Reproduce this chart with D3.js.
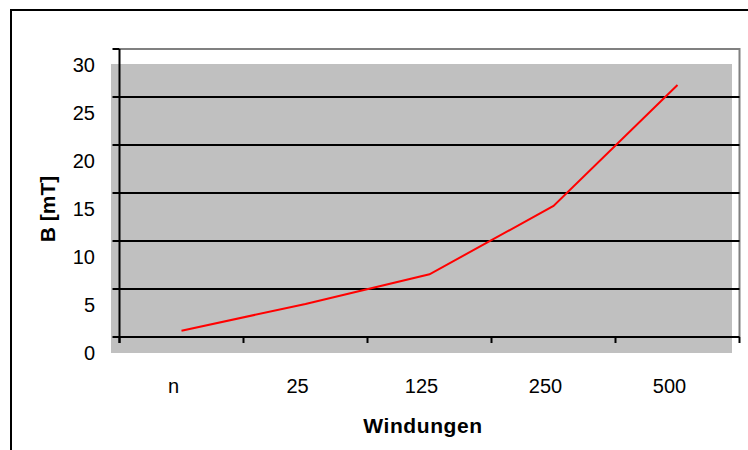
<!DOCTYPE html>
<html>
<head>
<meta charset="utf-8">
<script src="https://cdn.jsdelivr.net/npm/d3@7"></script>
<style>
  html, body { margin: 0; padding: 0; background: #fff; }
  svg { display: block; }
  text { font-family: "Liberation Sans", Arial, sans-serif; fill: #000; }
</style>
</head>
<body>
<svg id="chart" width="748" height="450"></svg>
<script>
// ---- data ----
const categories = ["n", "25", "125", "250", "500"];
const values = [0.66, 3.44, 6.53, 13.65, 26.25];
const yTicks = [0, 5, 10, 15, 20, 25, 30];
const xTitle = "Windungen";
const yTitle = "B [mT]";

// ---- layout ----
const W = 748, H = 450;
const plot = { left: 119.5, right: 739.5, top: 49, bottom: 337 };
const labelShift = { x: -8, y: 16 };

const svg = d3.select("#chart");

// outer frame
svg.append("rect")
  .attr("x", 11).attr("y", 10)
  .attr("width", 800).attr("height", 500)
  .attr("fill", "#fff").attr("stroke", "#000").attr("stroke-width", 2);

const x = d3.scaleBand().domain(categories).range([plot.left, plot.right]).paddingInner(0).paddingOuter(0);
const y = d3.scaleLinear().domain([0, 30]).range([plot.bottom, plot.top]);

// gray plot background (offset as in reference)
svg.append("rect")
  .attr("x", plot.left + labelShift.x - 0.5)
  .attr("y", plot.top + labelShift.y - 1)
  .attr("width", plot.right - plot.left + 1)
  .attr("height", plot.bottom - plot.top + 1)
  .attr("fill", "#C0C0C0");

// plot border (gray) top and right
svg.append("path")
  .attr("d", `M${plot.left},${plot.top}H${plot.right}V${plot.bottom}`)
  .attr("fill", "none").attr("stroke", "#808080").attr("stroke-width", 2);

// gridlines
svg.append("g").selectAll("line")
  .data(yTicks.filter(d => d > 0 && d < 30))
  .join("line")
  .attr("x1", plot.left).attr("x2", plot.right)
  .attr("y1", d => y(d)).attr("y2", d => y(d))
  .attr("stroke", "#000").attr("stroke-width", 2);

// y axis
svg.append("line")
  .attr("x1", plot.left).attr("x2", plot.left)
  .attr("y1", plot.top).attr("y2", plot.bottom + 6)
  .attr("stroke", "#000").attr("stroke-width", 2);
svg.append("g").selectAll("line")
  .data(yTicks)
  .join("line")
  .attr("x1", plot.left - 7).attr("x2", plot.left)
  .attr("y1", d => y(d)).attr("y2", d => y(d))
  .attr("stroke", "#000").attr("stroke-width", 2);

// x axis
svg.append("line")
  .attr("x1", plot.left).attr("x2", plot.right)
  .attr("y1", plot.bottom).attr("y2", plot.bottom)
  .attr("stroke", "#000").attr("stroke-width", 2);
const xTickPos = categories.map(c => x(c)).concat([x(categories[categories.length - 1]) + x.bandwidth()]);
svg.append("g").selectAll("line")
  .data(xTickPos)
  .join("line")
  .attr("x1", d => d).attr("x2", d => d)
  .attr("y1", plot.bottom).attr("y2", plot.bottom + 6)
  .attr("stroke", "#000").attr("stroke-width", 2);

// y tick labels
svg.append("g").selectAll("text")
  .data(yTicks)
  .join("text")
  .attr("x", 95)
  .attr("y", d => y(d) + labelShift.y + 7)
  .attr("text-anchor", "end")
  .attr("font-size", 20)
  .text(d => d);

// x tick labels
svg.append("g").selectAll("text")
  .data(categories)
  .join("text")
  .attr("x", d => x(d) + x.bandwidth() / 2 + labelShift.x)
  .attr("y", 393)
  .attr("text-anchor", "middle")
  .attr("font-size", 20)
  .text(d => d);

// line
const line = d3.line()
  .x((d, i) => x(categories[i]) + x.bandwidth() / 2)
  .y(d => y(d));
svg.append("path")
  .datum(values)
  .attr("d", line)
  .attr("fill", "none")
  .attr("stroke", "#FF0000")
  .attr("stroke-width", 2);

// titles
svg.append("text")
  .attr("x", 423).attr("y", 433)
  .attr("text-anchor", "middle")
  .attr("font-size", 21).attr("font-weight", "bold")
  .attr("letter-spacing", 0.6)
  .text(xTitle);

svg.append("text")
  .attr("transform", "translate(55,209) rotate(-90)")
  .attr("text-anchor", "middle")
  .attr("font-size", 21).attr("font-weight", "bold")
  .text(yTitle);
</script>
</body>
</html>
